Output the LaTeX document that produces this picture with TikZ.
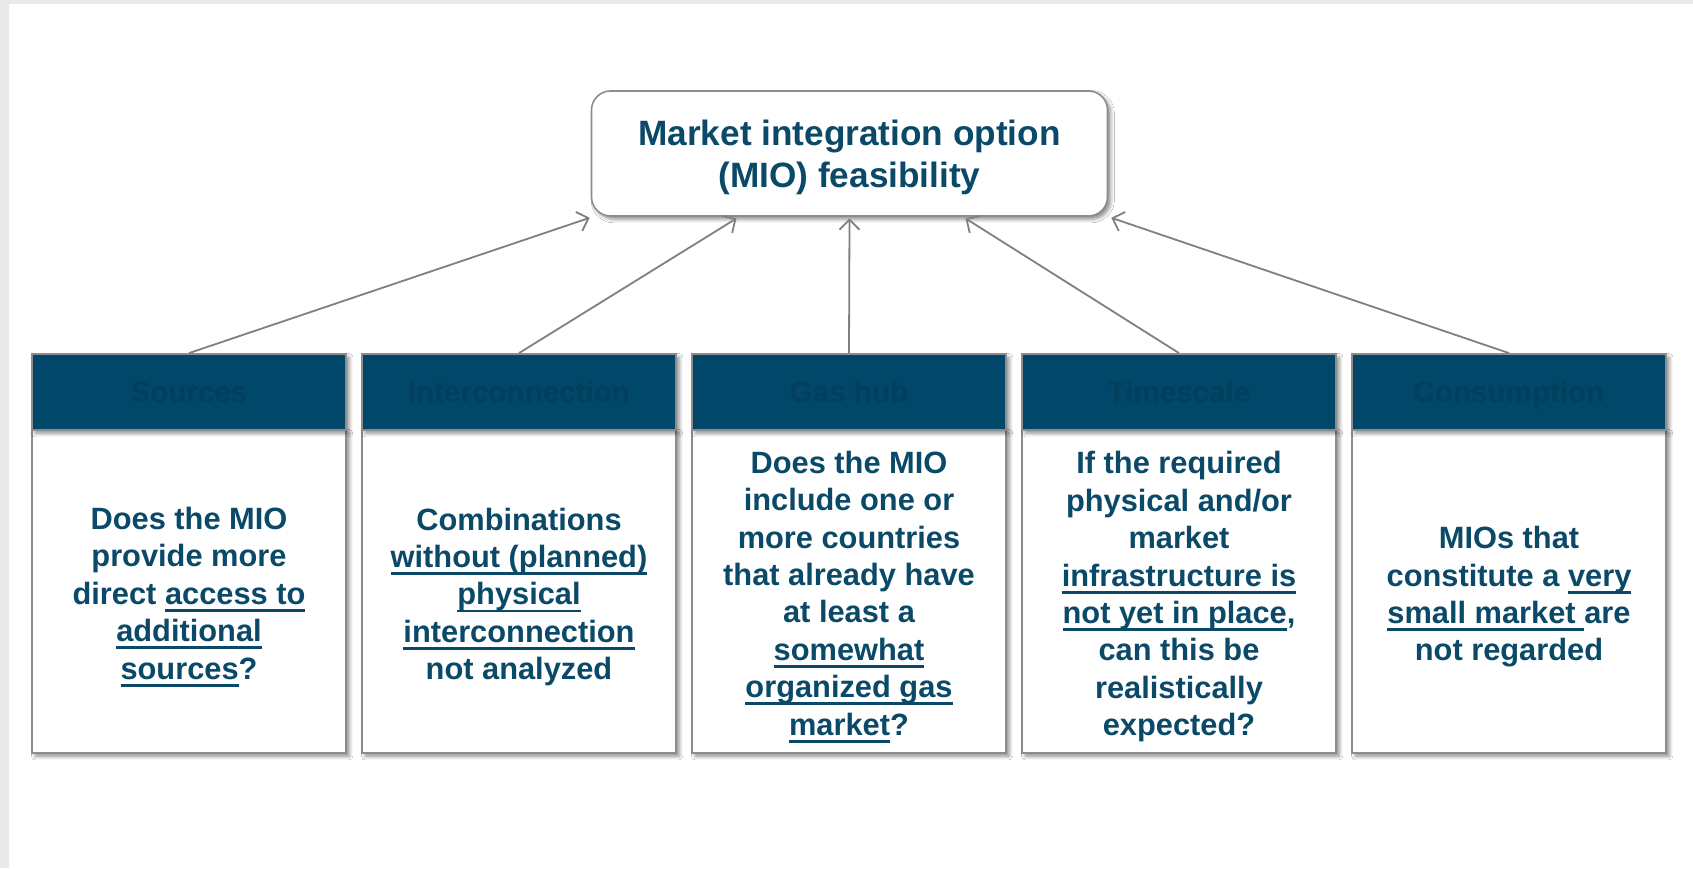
\documentclass[tikz,border=0pt]{standalone}
\usepackage{fontspec}
\setmainfont{Liberation Sans}
\usetikzlibrary{arrows.meta,shadows.blur,calc}
\definecolor{hdr}{RGB}{0,71,106}
\definecolor{txt}{RGB}{10,73,104}
\definecolor{hdrtxt}{RGB}{2,63,92}
\definecolor{bord}{RGB}{140,140,140}
\definecolor{strip}{RGB}{233,233,233}
\definecolor{arrgray}{RGB}{128,128,128}
\newsavebox\ulbox
\newcommand\myul[1]{\sbox\ulbox{#1}\leavevmode\rlap{\rule[-3.8pt]{\wd\ulbox}{1.45pt}}\usebox\ulbox}
\tikzset{
  shad/.style={blur shadow={shadow xshift=1.6pt,shadow yshift=-1.6pt,shadow blur radius=1.8pt,shadow opacity=45}},
  topbox/.style={draw=bord,line width=0.8pt,fill=white,rounded corners=9.5pt,shad,
    minimum width=258pt,minimum height=62.5pt},
  toptext/.style={align=center,text=txt,inner sep=0pt,
    font=\fontsize{17.6}{21}\selectfont\bfseries},
  bodybox/.style={draw=bord,line width=0.9pt,fill=white,shad,
    minimum width=157pt,minimum height=161.5pt},
  bodytext/.style={align=center,text=txt,inner sep=0pt,
    font=\fontsize{15.4}{18.7}\selectfont\bfseries},
  hdrbox/.style={draw=bord,line width=0.9pt,fill=hdr,shad,
    minimum width=157pt,minimum height=38pt,align=center,text=hdrtxt,
    text height=10.8pt,text depth=0pt,
    font=\fontsize{14.8}{18}\selectfont\bfseries},
  conn/.style={draw=arrgray,line width=0.9pt,-{Straight Barb[length=5pt,width=10pt,line width=0.9pt]}}
}
\begin{document}
\begin{tikzpicture}[x=0.5pt,y=-0.5pt]
\fill[strip] (0,0) rectangle (1693,868);
\fill[white] (9,4) rectangle (1693,868);
\useasboundingbox (0,0) rectangle (1693,868);

\node[topbox] (top) at (849.5,153.5) {};
\node[toptext] (toplbl) at ([yshift=-2pt]top.center) {Market integration option\\(MIO) feasibility};

\node[bodybox] (b1) at (189,591.5) {};
\node[bodybox] (b2) at (519,591.5) {};
\node[bodybox] (b3) at (849,591.5) {};
\node[bodybox] (b4) at (1179,591.5) {};
\node[bodybox] (b5) at (1509,591.5) {};

\node[bodytext] (b1t) at ([yshift=-2.7pt]b1.center) {Does the MIO\\provide more\\direct \myul{access to}\\\myul{additional}\\\myul{sources}?};
\node[bodytext] (b2t) at ([yshift=-2.7pt]b2.center) {Combinations\\\myul{without (planned)}\\\myul{physical}\\\myul{interconnection}\\not analyzed};
\node[bodytext] (b3t) at ([yshift=-2.7pt]b3.center) {Does the MIO\\include one or\\more countries\\that already have\\at least a\\\myul{somewhat}\\\myul{organized gas}\\\myul{market}?};
\node[bodytext] (b4t) at ([yshift=-2.7pt]b4.center) {If the required\\physical and/or\\market\\\myul{infrastructure is}\\\myul{not yet in place},\\can this be\\realistically\\expected?};
\node[bodytext] (b5t) at ([yshift=-2.7pt]b5.center) {MIOs that\\constitute a \myul{very}\\\myul{small market\ }are\\not regarded};

\node[hdrbox] (h1) at (189,392) {Sources};
\node[hdrbox] (h2) at (519,392) {Interconnection};
\node[hdrbox] (h3) at (849,392) {Gas hub};
\node[hdrbox] (h4) at (1179,392) {Timescale};
\node[hdrbox] (h5) at (1509,392) {Consumption};

\coordinate (t1) at ([xshift=-0.5pt,yshift=-0.5pt]top.south west);
\coordinate (t2) at ([xshift=-56.5pt,yshift=-0.8pt]top.south);
\coordinate (t3) at ([yshift=-0.8pt]top.south);
\coordinate (t4) at ([xshift=58pt,yshift=-0.8pt]top.south);
\coordinate (t5) at ([xshift=1.5pt,yshift=-0.5pt]top.south east);

\draw[conn] (h1.north) -- (t1);
\draw[conn] (h2.north) -- (t2);
\draw[conn] (h3.north) -- (t3);
\draw[conn] (h4.north) -- (t4);
\draw[conn] (h5.north) -- (t5);
\end{tikzpicture}
\end{document}
